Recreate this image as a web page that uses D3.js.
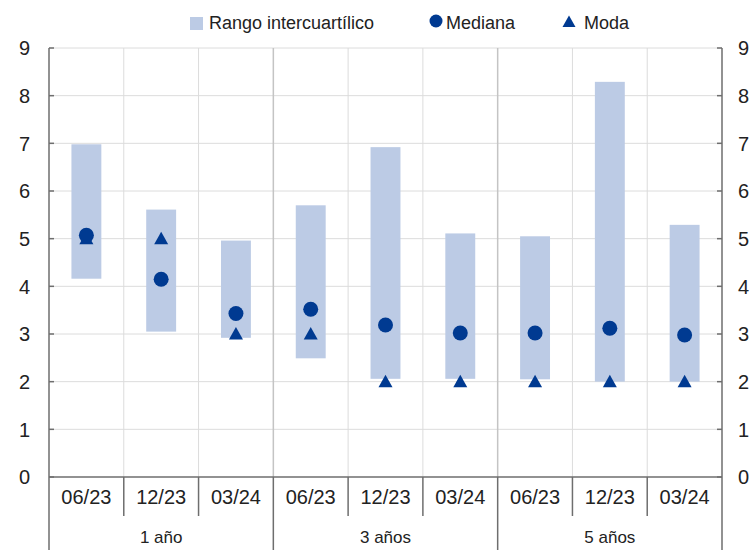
<!DOCTYPE html>
<html>
<head>
<meta charset="utf-8">
<script src="https://cdn.jsdelivr.net/npm/d3@7"></script>
<style>
  body { margin: 0; background: #fff; }
  text { font-family: "Liberation Sans", Arial, sans-serif; fill: #222; }
</style>
</head>
<body>
<div id="chart"></div>
<script>
// Data
var groups = ["1 año", "3 años", "5 años"];
var periods = ["06/23", "12/23", "03/24"];
var q1 = [4.16, 3.05, 2.92, 2.49, 2.06, 2.06, 2.05, 2.00, 2.00];
var q3 = [6.98, 5.61, 4.96, 5.70, 6.92, 5.11, 5.05, 8.29, 5.29];
var median = [5.07, 4.15, 3.43, 3.52, 3.19, 3.02, 3.02, 3.12, 2.98];
var mode = [5, 5, 3, 3, 2, 2, 2, 2, 2];
var yTicks = [0, 1, 2, 3, 4, 5, 6, 7, 8, 9];

var width = 752, height = 550,
    margin = {top: 48, right: 30, bottom: 73, left: 49};

var barColor = "#bccbe5", markColor = "#003a91",
    gridColor = "#dcdcdc", axisColor = "#6e6e6e";

var rows = [];
groups.forEach(function(g, gi) {
  periods.forEach(function(p, pi) {
    var i = gi * periods.length + pi;
    rows.push({key: g + "|" + p, group: g, period: p,
               q1: q1[i], q3: q3[i], median: median[i], mode: mode[i]});
  });
});

var svg = d3.select("#chart").append("svg")
    .attr("width", width)
    .attr("height", height);

var x = d3.scaleBand()
    .domain(rows.map(function(d) { return d.key; }))
    .range([margin.left, width - margin.right])
    .padding(0);

var y = d3.scaleLinear()
    .domain([0, 9])
    .range([height - margin.bottom, margin.top]);

var x0 = x.range()[0], x1 = x.range()[1], bw = x.bandwidth();
var yBase = y(0);

// horizontal gridlines
svg.append("g").selectAll("line")
  .data(yTicks.filter(function(t) { return t > 0; }))
  .enter().append("line")
    .attr("x1", x0).attr("x2", x1)
    .attr("y1", function(d) { return y(d); })
    .attr("y2", function(d) { return y(d); })
    .attr("stroke", gridColor).attr("stroke-width", 1);

// vertical gridlines at category boundaries
svg.append("g").selectAll("line")
  .data(rows.slice(1))
  .enter().append("line")
    .attr("x1", function(d) { return x(d.key); })
    .attr("x2", function(d) { return x(d.key); })
    .attr("y1", y(9)).attr("y2", yBase)
    .attr("stroke", function(d) { return d.period === periods[0] ? "#c4c4c4" : gridColor; })
    .attr("stroke-width", function(d) { return d.period === periods[0] ? 1.5 : 1; });

// interquartile bars
svg.append("g").selectAll("rect")
  .data(rows)
  .enter().append("rect")
    .attr("x", function(d) { return x(d.key) + bw * 0.3; })
    .attr("width", bw * 0.4)
    .attr("y", function(d) { return y(d.q3); })
    .attr("height", function(d) { return y(d.q1) - y(d.q3); })
    .attr("fill", barColor);

// axes frame
svg.append("line")
    .attr("x1", x0).attr("x2", x1).attr("y1", yBase).attr("y2", yBase)
    .attr("stroke", axisColor).attr("stroke-width", 1.5);
svg.append("line")
    .attr("x1", x0).attr("x2", x0).attr("y1", y(9)).attr("y2", height)
    .attr("stroke", axisColor).attr("stroke-width", 1.5);
svg.append("line")
    .attr("x1", x1).attr("x2", x1).attr("y1", y(9)).attr("y2", height)
    .attr("stroke", axisColor).attr("stroke-width", 1.5);

// inward ticks on both axes
svg.append("g").selectAll("line")
  .data(yTicks)
  .enter().append("line")
    .attr("x1", x0).attr("x2", x0 + 5)
    .attr("y1", function(d) { return y(d); })
    .attr("y2", function(d) { return y(d); })
    .attr("stroke", axisColor).attr("stroke-width", 1.5);
svg.append("g").selectAll("line")
  .data(yTicks)
  .enter().append("line")
    .attr("x1", x1 - 5).attr("x2", x1)
    .attr("y1", function(d) { return y(d); })
    .attr("y2", function(d) { return y(d); })
    .attr("stroke", axisColor).attr("stroke-width", 1.5);

// tick labels
svg.append("g").selectAll("text")
  .data(yTicks)
  .enter().append("text")
    .attr("x", 30)
    .attr("y", function(d) { return y(d); })
    .attr("dy", "0.36em")
    .attr("text-anchor", "end")
    .style("font-size", "20px")
    .text(function(d) { return d; });
svg.append("g").selectAll("text")
  .data(yTicks)
  .enter().append("text")
    .attr("x", 738)
    .attr("y", function(d) { return y(d); })
    .attr("dy", "0.36em")
    .attr("text-anchor", "start")
    .style("font-size", "20px")
    .text(function(d) { return d; });

// category separators below the axis
svg.append("g").selectAll("line")
  .data(rows.slice(1))
  .enter().append("line")
    .attr("x1", function(d) { return x(d.key); })
    .attr("x2", function(d) { return x(d.key); })
    .attr("y1", yBase)
    .attr("y2", function(d) { return d.period === periods[0] ? height : yBase + 39; })
    .attr("stroke", axisColor).attr("stroke-width", 1.5);

// category labels
svg.append("g").selectAll("text")
  .data(rows)
  .enter().append("text")
    .attr("x", function(d) { return x(d.key) + bw / 2; })
    .attr("y", yBase + 27)
    .attr("text-anchor", "middle")
    .style("font-size", "20px")
    .text(function(d) { return d.period; });

// group labels
svg.append("g").selectAll("text")
  .data(groups)
  .enter().append("text")
    .attr("x", function(g) {
      var first = x(g + "|" + periods[0]);
      return first + bw * periods.length / 2;
    })
    .attr("y", yBase + 66)
    .attr("text-anchor", "middle")
    .style("font-size", "17px")
    .text(function(g) { return g; });

// markers
var tri = "M0,-7L7,5.5L-7,5.5Z";
svg.append("g").selectAll("path")
  .data(rows)
  .enter().append("path")
    .attr("d", tri)
    .attr("transform", function(d) { return "translate(" + (x(d.key) + bw / 2) + "," + y(d.mode) + ")"; })
    .attr("fill", markColor);
svg.append("g").selectAll("circle")
  .data(rows)
  .enter().append("circle")
    .attr("cx", function(d) { return x(d.key) + bw / 2; })
    .attr("cy", function(d) { return y(d.median); })
    .attr("r", 7.5)
    .attr("fill", markColor);

// legend
var legend = svg.append("g");
legend.append("rect")
    .attr("x", 190).attr("y", 17).attr("width", 13).attr("height", 13)
    .attr("fill", barColor);
legend.append("text")
    .attr("x", 209).attr("y", 29)
    .style("font-size", "18px")
    .text("Rango intercuartílico");
legend.append("circle")
    .attr("cx", 436).attr("cy", 21).attr("r", 6.5)
    .attr("fill", markColor);
legend.append("text")
    .attr("x", 446).attr("y", 29)
    .style("font-size", "18px")
    .text("Mediana");
legend.append("path")
    .attr("d", "M0,-6.5L6.5,5L-6.5,5Z")
    .attr("transform", "translate(569,22)")
    .attr("fill", markColor);
legend.append("text")
    .attr("x", 584).attr("y", 29)
    .style("font-size", "18px")
    .text("Moda");
</script>
</body>
</html>
